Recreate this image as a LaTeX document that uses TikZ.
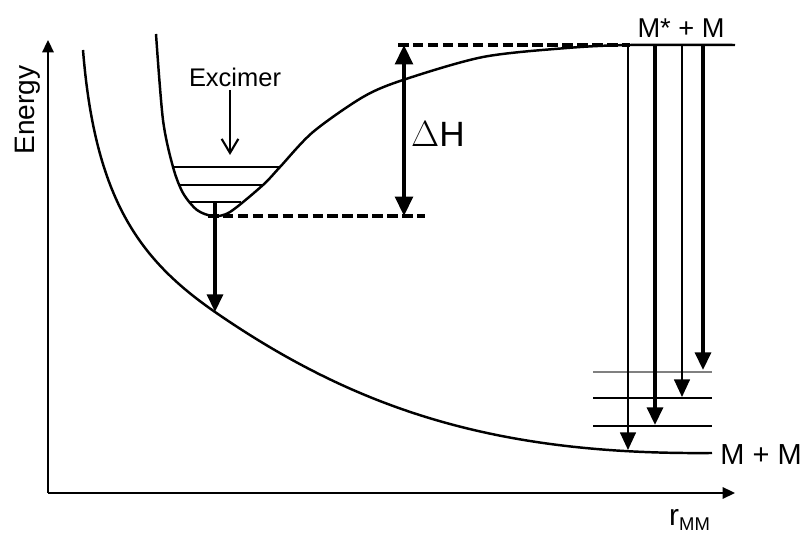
\documentclass[tikz,border=0pt]{standalone}
\usepackage{fontspec}
\setmainfont{Liberation Sans}
\usetikzlibrary{arrows.meta}

\begin{document}
\begin{tikzpicture}[x=0.02cm, y=-0.02cm, line join=round,
        every node/.style={inner sep=0pt},
        curve/.style={line width=1.4pt},
        level/.style={line width=0.8pt},
        axis/.style={line width=1pt, -{Triangle[length=7pt, width=6.5pt]}},
        emit/.style={line width=2pt, -{Triangle[length=10pt, width=9pt]}},
        faint/.style={line width=1pt, -{Triangle[length=10pt, width=9pt]}},
        guide/.style={line width=1.9pt, dash pattern=on 6pt off 2.5pt}]
    \useasboundingbox (0,0) rectangle (806,536);
    % axes
    \coordinate (O) at (48,493);
    \coordinate (Etop) at (48,40);
    \coordinate (Rend) at (735,493);
    \draw[axis] (O) -- (Etop);
    \draw[axis] (O) -- (Rend);
    \node[rotate=90, font=\fontsize{16}{18}\selectfont] (energy) at (28,110) {Energy};
    \node[font=\fontsize{17}{18}\selectfont] (rmm) at (690,520) {r\textsubscript{\fontsize{10.5}{12}\selectfont MM}};
    % M + M curve
    \draw[curve] (83,50) .. controls (95,200) and (140,260) .. (215,312)
        .. controls (360,412) and (500,455) .. (712,453);
    % excimer curve
    \draw[curve] plot[smooth] coordinates {(156,34) (163,120) (173,167) (183,193) (197,210)
        (213,216) (230,212) (263,185) (280,167) (313,132) (363,97) (403,80)
        (483,57) (567,48) (630,45) (735,45)};
    \draw[level] (173,167) -- (280,167);
    \draw[level] (178,185) -- (262,185);
    \draw[level] (190,202) -- (241,202);
    \coordinate (v0) at (215,202);
    \coordinate (g0) at (215,312);
    \draw[emit] (v0) -- (g0);
    \node[font=\fontsize{14.5}{17}\selectfont] (exc) at (235,77) {Excimer};
    \coordinate (e1) at (230,90);
    \coordinate (e2) at (230,155);
    \draw[line width=1.2pt, -{Straight Barb[length=8pt, width=9.5pt]}] (e1) -- (e2);
    % binding energy
    \coordinate (hT) at (404,45);
    \coordinate (hB) at (404,216);
    \draw[guide] (398,45) -- (630,45);
    \draw[guide] (208,216) -- (425,216);
    \draw[emit, {Triangle[length=11pt, width=10pt]}-{Triangle[length=11pt, width=10pt]}] (hT) -- (hB);
    \node[font=\fontsize{20}{22}\selectfont] (dh) at (438,134) {$\Delta$H};
    % monomer emission
    \node[font=\fontsize{15.5}{18}\selectfont] (top) at (681,28) {M* + M};
    \node[font=\fontsize{16.5}{18}\selectfont] (bot) at (761,455) {M + M};
    \draw[level, gray] (593,372) -- (712,372);
    \draw[level] (593,398) -- (712,398);
    \draw[level] (593,426) -- (712,426);
    \draw[faint] (628,45) -- (628,450);
    \draw[emit] (655,45) -- (655,425);
    \draw[faint] (682,45) -- (682,397);
    \draw[emit] (703,45) -- (703,370);
\end{tikzpicture}
\end{document}
